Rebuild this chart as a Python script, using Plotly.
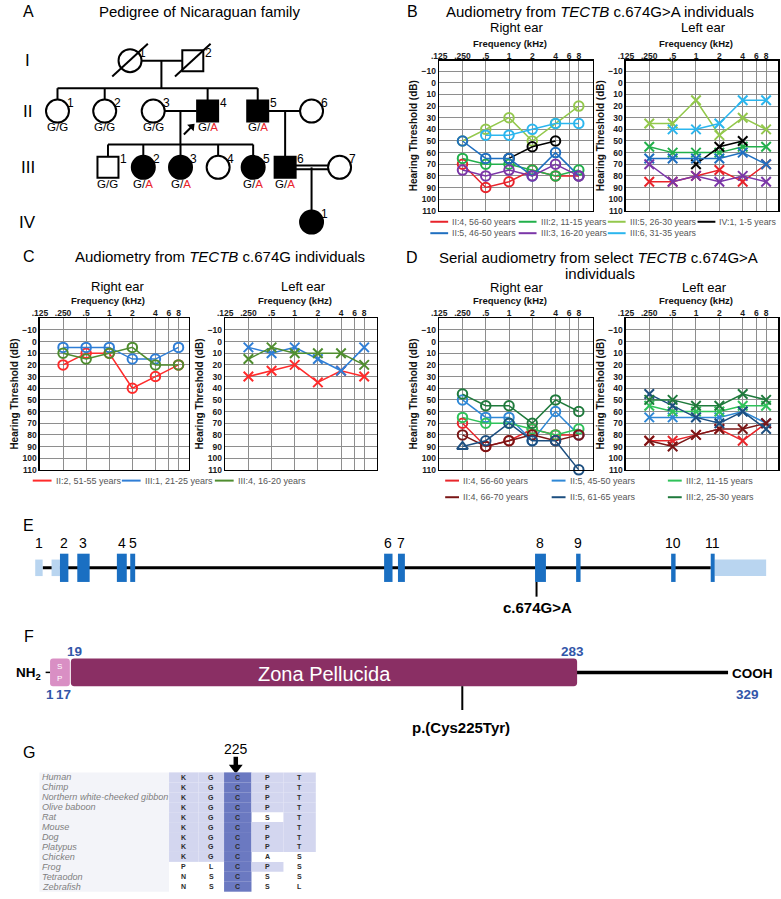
import math
import plotly.graph_objects as go

W, H = 781, 899
FONT = "Liberation Sans, Arial, Helvetica, sans-serif"

# ======================= DATA =======================
freqs = [0.25, 0.5, 1, 2, 4, 8]
freq_tickvals = [0.125, 0.25, 0.5, 1, 2, 4, 6, 8]
freq_ticktext = [".125", ".250", ".5", "1", "2", "4", "6", "8"]
db_tickvals = [-10, 0, 10, 20, 30, 40, 50, 60, 70, 80, 90, 100, 110]

# Panel B: TECTB c.674G>A individuals
b_labels = ["II:4, 56-60 years", "III:2, 11-15 years", "III:5, 26-30 years", "IV:1, 1-5 years",
            "II:5, 46-50 years", "III:3, 16-20 years", "III:6, 31-35 years"]
b_colors = ["#e8232b", "#22b04b", "#93c84c", "#000000", "#1f6fc0", "#7b36a8", "#2bb6ee"]
b_right = [
    [70, 90, 85, 75, 80, 80],
    [65, 70, 70, 75, 80, 75],
    [50, 40, 30, 50, 35, 20],
    [None, None, 65, 55, 50, None],
    [50, 65, 65, 80, 60, 80],
    [75, 80, 75, 80, 70, 80],
    [None, 45, 45, 40, 35, 35],
]
b_left = [
    [85, 85, 80, 75, 85, 70],
    [55, 60, 60, 60, 55, 55],
    [35, 35, 15, 45, 30, 40],
    [None, None, 70, 55, 50, None],
    [65, 65, 65, 65, 60, 70],
    [70, 85, 80, 85, 80, 85],
    [None, 40, 40, 35, 15, 15],
]

# Panel C: TECTB c.674G individuals
c_labels = ["II:2, 51-55 years", "III:1, 21-25 years", "III:4, 16-20 years"]
c_colors = ["#ff2b2b", "#2f7ed6", "#4f8d2f"]
c_right = [
    [20, 10, 10, 40, 30, 20],
    [5, 5, 5, 15, 15, 5],
    [10, 15, 10, 5, 20, 20],
]
c_left = [
    [30, 25, 20, 35, 25, 30],
    [5, 10, 5, 15, 25, 5],
    [15, 5, 10, 10, 10, 20],
]

# Panel D: serial audiometry
d_labels = ["II:4, 56-60 years", "II:5, 45-50 years", "III:2, 11-15 years",
            "II:4, 66-70 years", "II:5, 61-65 years", "III:2, 25-30 years"]
d_colors = ["#e8262b", "#2f88d6", "#2fc25a", "#7a1616", "#1d4f80", "#1f7a3c"]
d_right = [
    [70, 90, 85, 75, 80, 80],
    [50, 65, 65, 85, 60, 80],
    [65, 70, 70, 75, 80, 75],
    [80, 90, 85, 80, 85, 80],
    [90, 85, 70, 85, 85, 110],
    [45, 55, 55, 70, 50, 60],
]
d_left = [
    [85, 85, 80, 75, 85, 70],
    [65, 65, 65, 65, 60, 70],
    [55, 60, 60, 60, 55, 55],
    [85, 90, 80, 75, 75, 70],
    [45, 55, 65, 70, 60, 75],
    [50, 50, 55, 55, 45, 50],
]
d_right_no_response = [None, None, None, None, 0.25, None]  # triangle point

# Panel A: pedigree
ped_ids = ["I:1", "I:2", "II:1", "II:2", "II:3", "II:4", "II:5", "II:6",
           "III:1", "III:2", "III:3", "III:4", "III:5", "III:6", "III:7", "IV:1"]
ped_sex = ["F", "M", "F", "F", "F", "M", "M", "F",
           "M", "F", "F", "F", "F", "M", "F", "F"]
ped_affected = [0, 0, 0, 0, 0, 1, 1, 0, 0, 1, 1, 0, 1, 1, 0, 1]
ped_deceased = [1, 1, 0, 0, 0, 0, 0, 0, 0, 0, 0, 0, 0, 0, 0, 0]
ped_genotype = [None, None, "G/G", "G/G", "G/G", "G/A", "G/A", None,
                "G/G", "G/A", "G/A", None, "G/A", "G/A", None, None]
ped_proband = "II:4"
ped_marriages = [("I:1", "I:2"), ("II:3", "II:4"), ("II:5", "II:6")]
ped_consanguineous = [("III:6", "III:7")]
ped_children = {
    ("I:1", "I:2"): ["II:1", "II:2", "II:4", "II:5"],
    ("II:3", "II:4"): ["III:1", "III:2", "III:3", "III:4", "III:5"],
    ("II:5", "II:6"): ["III:6"],
    ("III:6", "III:7"): ["IV:1"],
}
generations = ["I", "II", "III", "IV"]

# Panel E: gene structure (schematic units)
exon_names = ["1", "2", "3", "4", "5", "6", "7", "8", "9", "10", "11"]
exon_start = [27.5, 44, 70, 110, 123.5, 380, 394, 532.5, 574, 670, 710]
exon_end = [35, 61, 82.5, 120, 128.5, 388.5, 401, 543.5, 578.5, 674.5, 766]
cds_start, cds_end = 52.5, 714
variant_c = "c.674G>A"
variant_c_pos = 534

# Panel F: protein
prot_sp = (1, 17)
prot_zp = (19, 283)
prot_len = 329
variant_p = "p.(Cys225Tyr)"

# Panel G: alignment
align_species = ["Human", "Chimp", "Northern white-cheeked gibbon", "Olive baboon", "Rat", "Mouse",
                 "Dog", "Platypus", "Chicken", "Frog", "Tetraodon", "Zebrafish"]
align_residues = ["KGCPT", "KGCPT", "KGCPT", "KGCPT", "KGCST", "KGCPT",
                  "KGCPT", "KGCPT", "KGCAS", "PLCPS", "NSCSS", "NSCSL"]
align_pos = 225
align_site_col = 2

# ======================= LAYOUT PARAMS =======================
GRID = "#8e8e8e"
shapes = []
annotations = []
traces = []
layout_axes = {}


def T(x, y, s, size, color="black", bold=False, xanchor="center", italic=False, angle=0):
    if italic:
        s = "<i>" + s + "</i>"
    annotations.append(dict(x=x, y=y, xref="x7", yref="y7", text=s, showarrow=False,
                            xanchor=xanchor, yanchor="middle", textangle=angle,
                            font=dict(family=FONT, size=size, color=color,
                                      weight="bold" if bold else "normal")))


def L(x0, y0, x1, y1, color="black", width=2):
    shapes.append(dict(type="line", xref="x7", yref="y7", x0=x0, y0=y0, x1=x1, y1=y1,
                       line=dict(color=color, width=width)))


def R(x0, y0, x1, y1, fill):
    shapes.append(dict(type="rect", xref="x7", yref="y7", x0=x0, y0=y0, x1=x1, y1=y1,
                       fillcolor=fill, line=dict(width=0), layer="above"))


def rounded(x0, y0, x1, y1, r, fill):
    p = (f"M{x0+r},{y0} L{x1-r},{y0} Q{x1},{y0} {x1},{y0+r} L{x1},{y1-r} Q{x1},{y1} {x1-r},{y1} "
         f"L{x0+r},{y1} Q{x0},{y1} {x0},{y1-r} L{x0},{y0+r} Q{x0},{y0} {x0+r},{y0} Z")
    shapes.append(dict(type="path", xref="x7", yref="y7", path=p, fillcolor=fill,
                       line=dict(width=0)))


def arrow(x0, y0, x1, y1, width, head_size, angle):
    traces.append(go.Scatter(x=[x0, x1], y=[y0, y1], mode="lines", xaxis="x7", yaxis="y7",
                             line=dict(color="black", width=width), showlegend=False,
                             hoverinfo="skip"))
    traces.append(go.Scatter(x=[x1], y=[y1], mode="markers", xaxis="x7", yaxis="y7",
                             marker=dict(symbol="triangle-up", angle=angle, size=head_size,
                                         color="black", opacity=1, line=dict(width=0)),
                             showlegend=False, hoverinfo="skip"))


# audiogram boxes: (x0, x1, y0, y1, xmax, ytop)
boxes = [
    (435.7, 591.0, 61, 212, 12.2, -19),    # B right
    (624.3, 778.0, 61, 212, 11.4, -19),    # B left
    (32.3, 182.7, 320, 472.5, 10.9, -20),  # C right
    (219.5, 372.7, 320, 472.5, 11.7, -20), # C left
    (435.7, 591.0, 320, 472.5, 12.2, -20), # D right
    (624.3, 778.0, 320, 472.5, 11.4, -20), # D left
]

for i, (x0, x1, y0, y1, xmax, ytop) in enumerate(boxes, start=1):
    sfx = "" if i == 1 else str(i)
    layout_axes["xaxis" + sfx] = dict(
        domain=[x0 / W, x1 / W], type="log", range=[math.log10(0.125), math.log10(xmax)],
        side="top", anchor="y" + sfx, tickvals=freq_tickvals, ticktext=freq_ticktext,
        showgrid=True, gridcolor=GRID, gridwidth=1, showline=True, linecolor="black",
        linewidth=1.5, mirror=True, ticks="", zeroline=False, fixedrange=True,
        ticklabelstandoff=-3,
        tickfont=dict(family=FONT, size=8.5, color="#1a1a1a", weight="bold"))
    layout_axes["yaxis" + sfx] = dict(
        domain=[1 - y1 / H, 1 - y0 / H], range=[110, ytop], anchor="x" + sfx,
        tickvals=db_tickvals, showgrid=True, gridcolor=GRID, gridwidth=1, showline=True,
        linecolor="black", linewidth=1.5, mirror=True, ticks="", zeroline=False, fixedrange=True,
        tickfont=dict(family=FONT, size=8.5, color="#1a1a1a", weight="bold"),
        title=dict(text="Hearing Threshold (dB)", standoff=2,
                   font=dict(family=FONT, size=10, color="#111", weight="bold")))
    T((x0 + x1) / 2 - 6, y0 - 17.5, "Frequency (kHz)", 9.5, "#111", bold=True)

layout_axes["xaxis7"] = dict(domain=[0, 1], range=[0, W], visible=False, anchor="y7", fixedrange=True)
layout_axes["yaxis7"] = dict(domain=[0, 1], range=[H, 0], visible=False, anchor="x7", fixedrange=True)


def add_series(ax, values, color, ear, symbols=None):
    sym = "circle-open" if ear == "R" else "x-thin-open"
    traces.append(go.Scatter(
        x=freqs, y=values, mode="lines+markers", xaxis="x" + ax, yaxis="y" + ax,
        line=dict(color=color, width=1.5), cliponaxis=False, showlegend=False, hoverinfo="skip",
        marker=dict(symbol=symbols if symbols else sym, size=9.5, color=color, opacity=1,
                    line=dict(width=2, color=color))))


for vals, col in zip(b_right, b_colors):
    add_series("", vals, col, "R")
for vals, col in zip(b_left, b_colors):
    add_series("2", vals, col, "L")
for vals, col in zip(c_right, c_colors):
    add_series("3", vals, col, "R")
for vals, col in zip(c_left, c_colors):
    add_series("4", vals, col, "L")
for k, (vals, col) in enumerate(zip(d_right, d_colors)):
    syms = None
    if d_right_no_response[k] is not None:
        syms = ["triangle-up-open" if f == d_right_no_response[k] else "circle-open" for f in freqs]
    add_series("5", vals, col, "R", syms)
for vals, col in zip(d_left, d_colors):
    add_series("6", vals, col, "L")


# legends
def legend(items, colors, cols_x, rows_y, ncol, line_len, text_size=9):
    for k, (lab, col) in enumerate(zip(items, colors)):
        cx = cols_x[k % ncol]
        cy = rows_y[k // ncol]
        L(cx, cy, cx + line_len, cy, col, 2)
        T(cx + line_len + 2, cy, lab, text_size, "#555555", xanchor="left")


legend(b_labels, b_colors, [426.7, 516, 606, 696.7], [223, 234.5], 4, 18, 8.8)
legend(c_labels, c_colors, [25, 115, 209], [483.3], 3, 19)
legend(d_labels, d_colors, [441.7, 549.3, 666.7], [483.3, 500], 3, 14)

# Panel titles
LETTER_X = 21
T(LETTER_X, 12, "A", 16)
T(193.8, 12, "Pedigree of Nicaraguan family", 15)
T(408.3, 12, "B", 16)
T(598.3, 12, "Audiometry from <i>TECTB</i> c.674G&gt;A individuals", 15)
T(514, 28, "Right ear", 13)
T(703, 28, "Left ear", 13)
T(LETTER_X, 258, "C", 16)
T(214, 258, "Audiometry from <i>TECTB</i> c.674G individuals", 15)
T(110.3, 288.5, "Right ear", 13)
T(298.3, 288.5, "Left ear", 13)
T(408.3, 258.5, "D", 16)
T(596.7, 258.5, "Serial audiometry from select <i>TECTB</i> c.674G&gt;A", 15)
T(598.3, 275, "individuals", 15)
T(513.3, 289.5, "Right ear", 13)
T(704, 289.5, "Left ear", 13)

# ======================= PEDIGREE =======================
PED_POS = {
    "I:1": (123.3, 61), "I:2": (186.7, 61),
    "II:1": (50, 111.7), "II:2": (97.7, 111.7), "II:3": (146.7, 111.7), "II:4": (201.7, 111.7),
    "II:5": (252.3, 111.7), "II:6": (306.7, 111.7),
    "III:1": (101, 168.3), "III:2": (136.7, 168.3), "III:3": (174.3, 168.3), "III:4": (212.3, 168.3),
    "III:5": (247.7, 168.3), "III:6": (280, 168.3), "III:7": (335, 168.3),
    "IV:1": (306.7, 223.3),
}
GEN_Y = [61, 111.7, 168.3, 223.3]
RAD = 11
sex_of = dict(zip(ped_ids, ped_sex))

lx, ly = [], []


def seg(x0, y0, x1, y1):
    lx.extend([x0, x1, None])
    ly.extend([y0, y1, None])


for a, b in ped_marriages:
    (xa, ya), (xb, yb) = PED_POS[a], PED_POS[b]
    seg(xa + RAD, ya, xb - RAD, yb)
for a, b in ped_consanguineous:
    (xa, ya), (xb, yb) = PED_POS[a], PED_POS[b]
    seg(xa + RAD, ya - 1.8, xb - RAD, yb - 1.8)
    seg(xa + RAD, ya + 1.8, xb - RAD, yb + 1.8)
for (a, b), kids in ped_children.items():
    (xa, ya), (xb, yb) = PED_POS[a], PED_POS[b]
    mx = (xa + xb) / 2
    if len(kids) == 1:
        kx, ky = PED_POS[kids[0]]
        seg(kx, ya, kx, ky - RAD)
    else:
        ky = PED_POS[kids[0]][1]
        bar = ky - 23
        seg(mx, ya, mx, bar)
        xs = [PED_POS[k][0] for k in kids]
        seg(min(xs + [mx]), bar, max(xs + [mx]), bar)
        for k in kids:
            kx = PED_POS[k][0]
            seg(kx, bar, kx, ky - RAD)

traces.append(go.Scatter(x=lx, y=ly, mode="lines", xaxis="x7", yaxis="y7",
                         line=dict(color="black", width=2), showlegend=False, hoverinfo="skip"))

traces.append(go.Scatter(
    x=[PED_POS[p][0] for p in ped_ids], y=[PED_POS[p][1] for p in ped_ids],
    mode="markers", xaxis="x7", yaxis="y7", showlegend=False, hoverinfo="skip",
    marker=dict(symbol=["circle" if s == "F" else "square" for s in ped_sex],
                size=[23 if s == "F" else 21 for s in ped_sex], opacity=1,
                color=["black" if a else "white" for a in ped_affected],
                line=dict(color="black", width=2))))

sx, sy = [], []
for p, dec in zip(ped_ids, ped_deceased):
    if dec:
        x, y = PED_POS[p]
        sx.extend([x - 18, x + 18, None])
        sy.extend([y + 16, y - 17, None])
traces.append(go.Scatter(x=sx, y=sy, mode="lines", xaxis="x7", yaxis="y7",
                         line=dict(color="black", width=2), showlegend=False, hoverinfo="skip"))

for p, g in zip(ped_ids, ped_genotype):
    x, y = PED_POS[p]
    num = p.split(":")[1]
    T(x + (13 if sex_of[p] == "F" else 16), y - 8, num, 12, "#000000")
    if g:
        a1, a2 = g.split("/")
        c2 = "#e8232b" if a2 == "A" else "#000000"
        T(x, y + 16.5, f"{a1}/<span style='color:{c2}'>{a2}</span>", 11.5, "#000000")

for gname, gy in zip(generations, GEN_Y):
    T(20, gy, gname, 17)

px_, py_ = PED_POS[ped_proband]
arrow(px_ - 24, py_ + 23.5, px_ - 16, py_ + 15.5, 2, 8, 45)

# ======================= GENE (E) =======================
T(LETTER_X, 528, "E", 16)
E_Y = 571
L(exon_end[0], E_Y, exon_start[-1], E_Y, "black", 3)
DARK, LIGHT = "#1a6fc2", "#b9d5f0"
for name, s, e in zip(exon_names, exon_start, exon_end):
    if s < cds_start:
        R(s, E_Y - 8.3, min(e, cds_start), E_Y + 8.3, LIGHT)
    if e > cds_end:
        R(max(s, cds_end), E_Y - 8.3, e, E_Y + 8.3, LIGHT)
    cs, ce = max(s, cds_start), min(e, cds_end)
    if ce > cs:
        R(cs, E_Y - 14.2, ce, E_Y + 14.2, DARK)
        lxp = (cs + ce) / 2
    else:
        lxp = (s + e) / 2
    T(lxp, 546, name, 14)
L(variant_c_pos, E_Y + 14.2, variant_c_pos, 600, "black", 2)
T(variant_c_pos + 1, 610.5, variant_c.replace(">", "&gt;"), 15, bold=True)

# ======================= PROTEIN (F) =======================
T(LETTER_X, 640, "F", 16)
PX = {1: 42.5, 17: 62.5, 19: 63.5, 283: 575, 329: 727.5, 225: 459}
F_Y0, F_Y1 = 662.3, 690
F_MID = (F_Y0 + F_Y1) / 2
L(PX[283] - 2, F_MID, PX[prot_len], F_MID, "black", 3.5)
L(38, F_MID, PX[1], F_MID, "black", 1.5)
rounded(PX[prot_sp[0]], F_Y0, PX[prot_sp[1]], F_Y1, 3, "#d98fc4")
rounded(PX[prot_zp[0]], F_Y0, PX[prot_zp[1]], F_Y1, 3.5, "#8a2f64")
T((PX[1] + PX[17]) / 2, 670, "S", 8, "white")
T((PX[1] + PX[17]) / 2, 682.5, "P", 8, "white")
T(320, 677.5, "Zona Pellucida", 20, "white")
T(21, 677, "NH<sub>2</sub>", 13.5, bold=True)
T(752.5, 677, "COOH", 13.5, bold=True)
BLUE_N = "#3256a8"
T(PX[19] + 3.5, 655, str(prot_zp[0]), 13.5, BLUE_N, bold=True)
T(PX[283] - 5, 655, str(prot_zp[1]), 13.5, BLUE_N, bold=True)
T(PX[1] - 0.5, 698.5, str(prot_sp[0]), 13.5, BLUE_N, bold=True)
T(PX[17] - 6.5, 698.5, str(prot_sp[1]), 13.5, BLUE_N, bold=True)
T(PX[329] + 20, 698.5, str(prot_len), 13.5, BLUE_N, bold=True)
L(PX[225], F_Y1, PX[225], 714, "black", 2)
T(PX[225] - 1, 731.7, variant_p, 15, bold=True)

# ======================= ALIGNMENT (G) =======================
T(LETTER_X, 756.7, "G", 16)
G_TOP, ROW_H = 776.7, 10
col_edges = [162.7, 192.5, 218.3, 246, 278.3, 311]
n = len(align_species)
R(31.7, G_TOP, col_edges[0], G_TOP + n * ROW_H, "#f3f4f9")
R(col_edges[0], G_TOP, col_edges[-1], G_TOP + n * ROW_H, "#ffffff")
human = align_residues[0]
for r, (sp, res) in enumerate(zip(align_species, align_residues)):
    ry0 = G_TOP + r * ROW_H
    for c, aa in enumerate(res):
        if c == align_site_col:
            R(col_edges[c], ry0, col_edges[c + 1], ry0 + ROW_H, "#6b79c1")
        elif aa == human[c]:
            R(col_edges[c], ry0, col_edges[c + 1], ry0 + ROW_H, "#d3d6ef")
    T(32, ry0 + ROW_H / 2, sp, 9.1, "#7f7f7f", xanchor="left", italic=True)
    for c, aa in enumerate(res):
        T((col_edges[c] + col_edges[c + 1]) / 2, ry0 + ROW_H / 2, aa, 7, "#2b2b2b", bold=True)
site_x = (col_edges[align_site_col] + col_edges[align_site_col + 1]) / 2 - 2
T(site_x, 753, str(align_pos), 14)
traces.append(go.Scatter(x=[site_x, site_x], y=[761, 770], mode="lines", xaxis="x7", yaxis="y7",
                         line=dict(color="black", width=4.5), showlegend=False, hoverinfo="skip"))
traces.append(go.Scatter(x=[site_x], y=[772], mode="markers", xaxis="x7", yaxis="y7",
                         marker=dict(symbol="triangle-down", size=12, color="black", opacity=1,
                                     line=dict(width=0)),
                         showlegend=False, hoverinfo="skip", cliponaxis=False))

# ======================= FIGURE =======================
fig = go.Figure(data=traces)
fig.update_layout(
    width=W, height=H, margin=dict(l=0, r=0, t=0, b=0, pad=0),
    paper_bgcolor="white", plot_bgcolor="rgba(0,0,0,0)",
    showlegend=False, shapes=shapes, annotations=annotations,
    font=dict(family=FONT, color="black"),
    **layout_axes,
)
fig.write_html("out.html", include_plotlyjs=True,
               config={"displayModeBar": False, "staticPlot": True},
               post_script="document.body.style.margin='0px';document.body.style.overflow='hidden';")
